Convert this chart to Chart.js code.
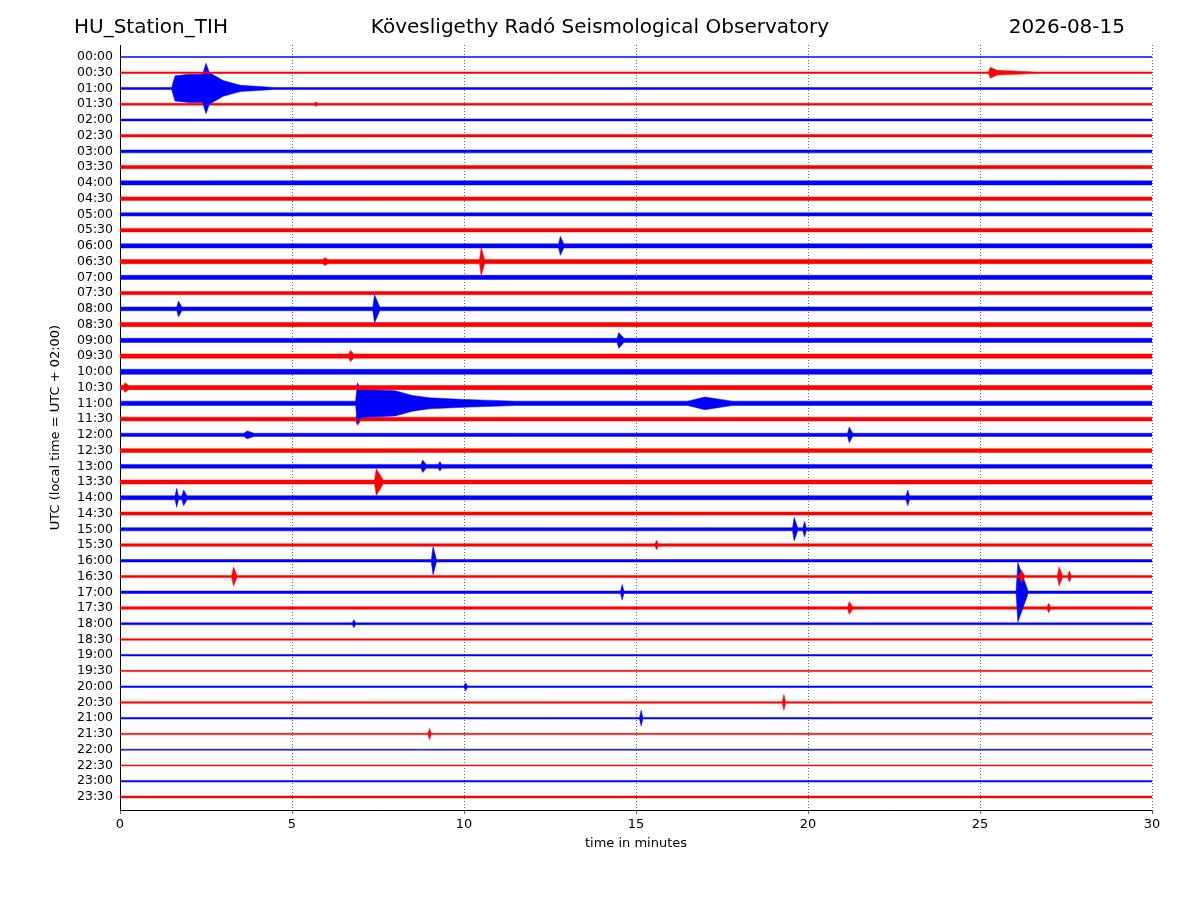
<!DOCTYPE html>
<html><head><meta charset="utf-8">
<script src="https://cdn.jsdelivr.net/npm/chart.js@4/dist/chart.umd.min.js"></script>
<style>body{margin:0;background:#fff}canvas{display:block}</style>
</head><body>
<div style="width:1200px;height:900px"><canvas id="c"></canvas></div>
<script>
// helicorder: one trace per half hour, drawn as amplitude envelope bands
const hourLabels = [];
for (let h = 0; h < 24; h++) {
  const hh = String(h).padStart(2, '0');
  hourLabels.push(hh + ':00', hh + ':30');
}
const xTicks = [0, 5, 10, 15, 20, 25, 30];

// background noise half-amplitude of each trace (in trace spacings)
const baseNoise = [
  0.03, 0.05, 0.06, 0.06, 0.06, 0.08, 0.09, 0.1,
  0.13, 0.11, 0.1, 0.11, 0.13, 0.13, 0.13, 0.1,
  0.12, 0.13, 0.13, 0.14, 0.16, 0.13, 0.14, 0.12,
  0.1, 0.12, 0.12, 0.13, 0.13, 0.1, 0.1, 0.08,
  0.08, 0.07, 0.08, 0.08, 0.06, 0.05, 0.05, 0.04,
  0.05, 0.05, 0.05, 0.04, 0.03, 0.03, 0.05, 0.06
];

// events: [trace index, [[minute, half-amplitude], ...]] envelope
const events = [
  [1, [[25.25, 0.05], [25.3, 0.35], [25.5, 0.15], [26.6, 0.05]]],
  [2, [[1.5, 0.06], [1.6, 0.8], [2.0, 0.9], [2.4, 0.9], [2.5, 1.6], [2.6, 1.0], [3.0, 0.5], [3.5, 0.2], [4.5, 0.06]]],
  [3, [[5.65, 0.06], [5.7, 0.15], [5.75, 0.06]]],
  [12, [[12.75, 0.13], [12.8, 0.6], [12.9, 0.13]]],
  [13, [[5.9, 0.13], [5.95, 0.25], [6.05, 0.13], [10.45, 0.13], [10.5, 0.9], [10.6, 0.13]]],
  [16, [[1.65, 0.12], [1.7, 0.5], [1.8, 0.12], [7.35, 0.12], [7.4, 0.9], [7.55, 0.12]]],
  [18, [[14.45, 0.13], [14.5, 0.5], [14.65, 0.13]]],
  [19, [[6.65, 0.14], [6.7, 0.35], [6.8, 0.14]]],
  [21, [[0.1, 0.13], [0.15, 0.3], [0.25, 0.13]]],
  [22, [[6.85, 0.14], [6.9, 1.3], [7.0, 0.9], [8.0, 0.8], [8.5, 0.5], [9.0, 0.35], [10.0, 0.25], [11.5, 0.14],
        [16.5, 0.14], [17.0, 0.4], [17.8, 0.14]]],
  [23, [[6.85, 0.12], [6.9, 0.4], [7.0, 0.12]]],
  [24, [[3.6, 0.1], [3.7, 0.25], [3.9, 0.1], [21.15, 0.1], [21.2, 0.5], [21.3, 0.1]]],
  [26, [[8.75, 0.12], [8.8, 0.4], [8.9, 0.12], [9.25, 0.12], [9.3, 0.3], [9.35, 0.12]]],
  [27, [[7.4, 0.13], [7.45, 0.85], [7.65, 0.13]]],
  [28, [[1.6, 0.13], [1.65, 0.6], [1.7, 0.13], [1.8, 0.13], [1.85, 0.5], [1.95, 0.13], [22.85, 0.13], [22.9, 0.5], [22.95, 0.13]]],
  [30, [[19.55, 0.1], [19.6, 0.75], [19.7, 0.1], [19.85, 0.1], [19.9, 0.5], [19.95, 0.1]]],
  [31, [[15.55, 0.08], [15.6, 0.3], [15.65, 0.08]]],
  [32, [[9.05, 0.08], [9.1, 0.9], [9.2, 0.08]]],
  [33, [[3.25, 0.07], [3.3, 0.6], [3.4, 0.07], [26.15, 0.07], [26.2, 0.4], [26.3, 0.07],
        [27.25, 0.07], [27.3, 0.6], [27.4, 0.07], [27.55, 0.07], [27.6, 0.35], [27.65, 0.07]]],
  [34, [[14.55, 0.08], [14.6, 0.5], [14.65, 0.08], [26.05, 0.08], [26.1, 1.9], [26.4, 0.08]]],
  [35, [[21.15, 0.08], [21.2, 0.4], [21.3, 0.08], [26.95, 0.08], [27.0, 0.3], [27.05, 0.08]]],
  [36, [[6.75, 0.06], [6.8, 0.25], [6.85, 0.06]]],
  [40, [[10.0, 0.05], [10.05, 0.25], [10.1, 0.05]]],
  [41, [[19.25, 0.05], [19.3, 0.5], [19.35, 0.05]]],
  [42, [[15.1, 0.05], [15.15, 0.5], [15.2, 0.05]]],
  [43, [[8.95, 0.04], [9.0, 0.35], [9.05, 0.04]]]
];

const datasets = [];
hourLabels.forEach((label, i) => {
  const color = i % 2 === 0 ? '#0000ff' : '#ff0000';
  const base = baseNoise[i];
  let pts = [[0, base], [30, base]];
  events.filter((e) => e[0] === i).forEach((e) => { pts = pts.concat(e[1]); });
  pts.sort((p, q) => p[0] - q[0]);
  const upper = pts.map((p) => ({ x: p[0], y: i - p[1] }));
  const lower = pts.map((p) => ({ x: p[0], y: i + p[1] }));
  datasets.push({ data: upper, borderColor: color, backgroundColor: color, borderWidth: 0.5, pointRadius: 0, fill: '+1' });
  datasets.push({ data: lower, borderColor: color, backgroundColor: color, borderWidth: 0.5, pointRadius: 0, fill: false });
});

const titles = {
  id: 'titles',
  afterDraw(chart) {
    const ctx = chart.ctx;
    ctx.save();
    ctx.fillStyle = '#000';
    ctx.font = '20px "DejaVu Sans"';
    ctx.textBaseline = 'middle';
    ctx.textAlign = 'left';
    ctx.fillText('HU_Station_TIH', 74, 28);
    ctx.textAlign = 'center';
    ctx.fillText('Kövesligethy Radó Seismological Observatory', 600, 28);
    ctx.textAlign = 'right';
    ctx.fillText('2026-08-15', 1125, 28);
    ctx.restore();
  }
};

new Chart(document.getElementById('c'), {
  type: 'line',
  data: { datasets },
  plugins: [titles],
  options: {
    responsive: true, maintainAspectRatio: false, animation: false,
    layout: { padding: { left: 48, top: 45, right: 48, bottom: 45 } },
    plugins: { legend: { display: false }, tooltip: { enabled: false } },
    scales: {
      x: {
        type: 'linear', min: 0, max: 30,
        afterBuildTicks: (s) => { s.ticks = xTicks.map((v) => ({ value: v })); },
        afterFit: (s) => { s.height = 45; },
        ticks: { color: '#000', font: { family: 'DejaVu Sans', size: 13 } },
        grid: { color: '#000', lineWidth: 0.6, drawTicks: true, tickLength: 4 },
        border: { color: '#000', dash: [1, 2] },
        title: { display: true, text: 'time in minutes', color: '#000', font: { family: 'DejaVu Sans', size: 13 }, padding: { top: 0 } }
      },
      y: {
        type: 'linear', reverse: true, min: -0.76, max: 47.83,
        afterBuildTicks: (s) => { s.ticks = hourLabels.map((l, i) => ({ value: i })); },
        afterFit: (s) => { s.width = 72; },
        ticks: { color: '#000', autoSkip: false, font: { family: 'DejaVu Sans', size: 12.5 }, callback: (v) => hourLabels[v] },
        grid: { display: false, drawTicks: true, tickLength: 4 },
        border: { color: '#000' },
        title: { display: true, text: 'UTC (local time = UTC + 02:00)', color: '#000', font: { family: 'DejaVu Sans', size: 13 }, padding: 0 }
      }
    }
  }
});
</script>
</body></html>
